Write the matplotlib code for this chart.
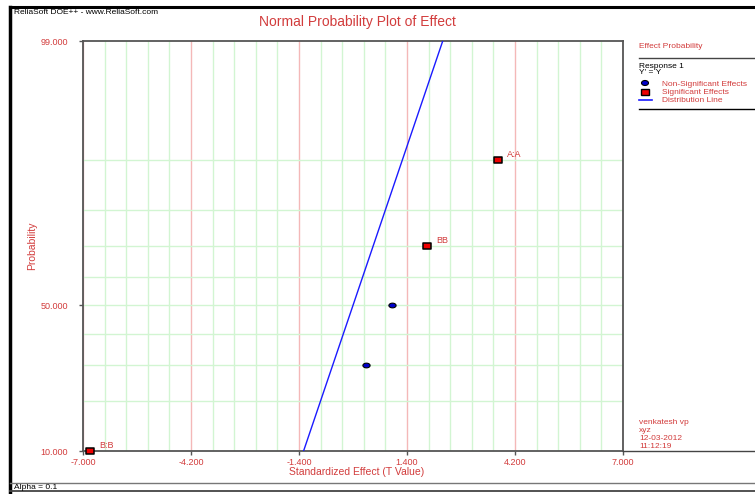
import matplotlib
matplotlib.use("Agg")
import matplotlib.pyplot as plt
from matplotlib.lines import Line2D
from matplotlib.patches import Ellipse, Rectangle
from matplotlib.path import Path
from statistics import NormalDist
import numpy as np

plt.rcParams['font.family'] = ['Liberation Sans', 'DejaVu Sans']

# ---- data ----
effect_labels = ["B:B", "", "", "BB", "A:A"]
effect_values = [-6.82, 0.34, 1.01, 1.92, 3.76]
effect_prob = [10.0, 30.0, 50.0, 70.0, 90.0]
effect_significant = [True, False, False, True, True]
dist_mean = 0.0
dist_sigma = 1.0

x_ticks = [-7.0, -4.2, -1.4, 1.4, 4.2, 7.0]
y_tick_labels = [10.0, 50.0, 99.0]
y_grid = [20, 30, 40, 50, 60, 70, 80, 90]

RED = "#d23c3c"
W, H = 755, 494
nd = NormalDist()


def z(p):
    return nd.inv_cdf(p / 100.0)


fig = plt.figure(figsize=(W / 100, H / 100), dpi=100)


def fx(px):
    return px / W


def fy(py):
    return 1 - py / H


def hline(x0, x1, y, color="black", lw=1.0):
    fig.add_artist(Line2D([fx(x0), fx(x1)], [fy(y), fy(y)], color=color, lw=lw,
                          transform=fig.transFigure))


def vline(x, y0, y1, color="black", lw=1.0):
    fig.add_artist(Line2D([fx(x), fx(x)], [fy(y0), fy(y1)], color=color, lw=lw,
                          transform=fig.transFigure))


# flat marker shapes: wide rectangle and wide ellipse
rect_marker = Path([(-1, -0.72), (1, -0.72), (1, 0.72), (-1, 0.72), (-1, -0.72)],
                   [Path.MOVETO, Path.LINETO, Path.LINETO, Path.LINETO, Path.CLOSEPOLY])
t = np.linspace(0, 2 * np.pi, 40)
ell_marker = Path(np.column_stack([np.cos(t), 0.65 * np.sin(t)]))

# outer frame
hline(10, W, 7, lw=2.2)
vline(10, 7, H, lw=2.5)
hline(10, W, 483, color="#777777", lw=1.0)
hline(10, W, 491, color="#444444", lw=1.3)
hline(623, W, 451, color="#444444", lw=1.0)

# plot axes
ax_l, ax_r, ax_t, ax_b = 83, 623, 41, 451
ax = fig.add_axes([fx(ax_l), fy(ax_b), fx(ax_r) - fx(ax_l), (ax_b - ax_t) / H])
ax.set_xlim(-7, 7)
ax.set_ylim(z(10), z(99))

minor_x = np.arange(-7, 7.001, 0.56)
for xv in minor_x:
    is_major = any(abs(xv - m) < 1e-6 for m in x_ticks)
    ax.axvline(xv, color="#f4b8b8" if is_major else "#d2f5d2", lw=1.0, zorder=0)
for p in y_grid:
    ax.axhline(z(p), color="#d2f5d2", lw=1.0, zorder=0)

# distribution line
zz = np.linspace(z(5), z(99.5), 50)
ax.plot(dist_mean + dist_sigma * zz, zz, color="#1a1aff", lw=1.0, zorder=3)

# effects
for lab, xv, p, sig in zip(effect_labels, effect_values, effect_prob, effect_significant):
    yv = z(p)
    if sig:
        ax.plot(xv, yv, marker=rect_marker, ms=5.5, color="#ee0000", mec="black", mew=1.1,
                zorder=5, clip_on=False)
    else:
        ax.plot(xv, yv, marker=ell_marker, ms=5.2, color="#0000cc", mec="black", mew=0.8,
                zorder=5, clip_on=False)
    if lab:
        ax.annotate(lab, (xv, yv), xytext=(6.5, 0.5), textcoords="offset points",
                    fontsize=6.5, color=RED, va="bottom", ha="left")

ax.set_xticks(x_ticks)
ax.set_xticklabels([f"{v:.3f}" for v in x_ticks])
ax.set_yticks([z(v) for v in y_tick_labels])
ax.set_yticklabels([f"{v:.3f}" for v in y_tick_labels])
ax.tick_params(axis="both", colors="#555555", labelcolor=RED, labelsize=6.5,
               length=3, width=1)
ax.tick_params(axis="x", pad=2)
ax.tick_params(axis="y", pad=8)
for s in ax.spines.values():
    s.set_color("#555555")
    s.set_linewidth(1.3)

fig.text(fx(357), fy(472), "Standardized Effect (T Value)", color=RED, fontsize=7.5,
         ha="center", va="center")
fig.text(fx(32), fy(246), "Probability", color=RED, fontsize=7.5, rotation=90,
         ha="center", va="center")

# header texts
fig.text(fx(14), fy(12), "ReliaSoft DOE++ - www.ReliaSoft.com", fontsize=6,
         color="black", va="center", ha="left")
fig.text(fx(357), fy(22), "Normal Probability Plot of Effect", fontsize=10,
         color=RED, va="center", ha="center")
fig.text(fx(14), fy(487), "Alpha = 0.1", fontsize=6, color="black",
         va="center", ha="left")

# legend panel
lx = 639
fig.text(fx(lx), fy(46), "Effect Probability", fontsize=6, color=RED, va="center")
hline(lx, W, 58, color="#444444", lw=1.0)
fig.text(fx(lx), fy(66), "Response 1", fontsize=6, color="black", va="center")
fig.text(fx(lx), fy(73), "Y' = Y", fontsize=6, color="black", va="center")
fig.add_artist(Ellipse((fx(645), fy(83)), 7 / W, 5 / H, transform=fig.transFigure,
                       facecolor="#0000cc", edgecolor="black", lw=0.8))
fig.text(fx(662), fy(84), "Non-Significant Effects", fontsize=6, color=RED, va="center")
fig.add_artist(Rectangle((fx(641), fy(94.5)), 8 / W, 5 / H, transform=fig.transFigure,
                         facecolor="#ee0000", edgecolor="black", lw=1.0))
fig.text(fx(662), fy(92), "Significant Effects", fontsize=6, color=RED, va="center")
hline(639, 652, 100, color="#1a1aff", lw=1.2)
fig.text(fx(662), fy(100), "Distribution Line", fontsize=6, color=RED, va="center")
hline(lx, W, 109, color="black", lw=1.0)

# user stamp
for i, s in enumerate(["venkatesh vp", "xyz", "12-03-2012", "11:12:19"]):
    fig.text(fx(lx), fy(422 + i * 8), s, fontsize=6, color=RED, va="center")

fig.savefig("out.png", dpi=100)
